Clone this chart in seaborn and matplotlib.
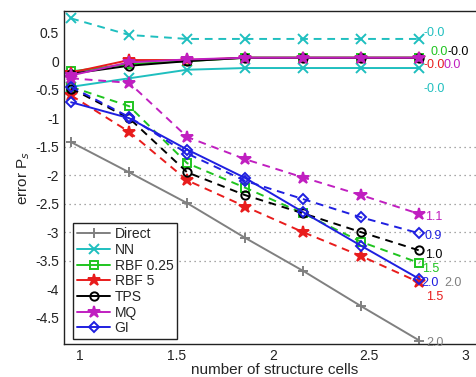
import numpy as np
import pandas as pd
import matplotlib
matplotlib.use("Agg")
import matplotlib.pyplot as plt
import seaborn as sns

sns.set_style("white")
plt.rcParams['font.family'] = ['Liberation Sans', 'DejaVu Sans']

# ---- data ----
x_cells = [0.954, 1.255, 1.556, 1.857, 2.158, 2.459, 2.760]

direct       = [-1.42, -1.95, -2.49, -3.10, -3.68, -4.30, -4.90]
nn_solid     = [-0.45, -0.30, -0.15, -0.12, -0.12, -0.12, -0.12]
nn_dash      = [0.75, 0.46, 0.39, 0.39, 0.39, 0.39, 0.39]
rbf025_solid = [-0.18, -0.05, 0.00, 0.06, 0.06, 0.06, 0.06]
rbf025_dash  = [-0.45, -0.79, -1.79, -2.22, -2.67, -3.17, -3.54]
rbf5_solid   = [-0.20, 0.02, 0.02, 0.06, 0.06, 0.06, 0.06]
rbf5_dash    = [-0.60, -1.24, -2.09, -2.55, -3.00, -3.42, -3.88]
tps_solid    = [-0.22, -0.08, 0.00, 0.06, 0.06, 0.06, 0.06]
tps_dash     = [-0.48, -1.00, -1.95, -2.35, -2.67, -3.00, -3.32]
mq_solid     = [-0.25, -0.02, 0.03, 0.06, 0.06, 0.06, 0.06]
mq_dash      = [-0.30, -0.38, -1.33, -1.72, -2.04, -2.35, -2.68]
gi_solid     = [-0.72, -1.00, -1.55, -2.05, -2.65, -3.24, -3.82]
gi_dash      = [-0.45, -0.98, -1.62, -2.10, -2.42, -2.74, -3.02]

legend_labels = ["Direct", "NN", "RBF 0.25", "RBF 5", "TPS", "MQ", "GI"]
rate_labels = {
    "nn_dash": "-0.0", "rbf025_solid": "0.0", "tps_solid": "-0.0",
    "rbf5_solid": "-0.0", "mq_solid": "0.0", "nn_solid": "-0.0",
    "mq_dash": "1.1", "gi_dash": "0.9", "tps_dash": "1.0",
    "rbf025_dash": "1.5", "gi_solid": "2.0", "gi_solid_b": "2.0",
    "rbf5_dash": "1.5", "direct": "2.0",
}

x_ticks = [1, 1.5, 2, 2.5, 3]
x_ticklabels = ["1", "1.5", "2", "2.5", "3"]
y_ticks = [0.5, 0, -0.5, -1, -1.5, -2, -2.5, -3, -3.5, -4, -4.5]
y_ticklabels = ["0.5", "0", "-0.5", "-1", "-1.5", "-2", "-2.5", "-3", "-3.5", "-4", "-4.5"]
grid_levels = [-1.5, -2, -2.5, -3, -3.5]

# ---- styles ----
C_GRAY = "#808080"
C_CYAN = "#1fbfbf"
C_GREEN = "#1fc41f"
C_RED = "#e81c1c"
C_BLACK = "#000000"
C_MAG = "#c01fc0"
C_BLUE = "#1f1fe0"

series = [
    # key, data, color, marker, dashed, legend label
    ("direct", direct, C_GRAY, "+", False, "Direct"),
    ("nn_solid", nn_solid, C_CYAN, "x", False, "NN"),
    ("nn_dash", nn_dash, C_CYAN, "x", True, None),
    ("rbf025_solid", rbf025_solid, C_GREEN, "s", False, "RBF 0.25"),
    ("rbf025_dash", rbf025_dash, C_GREEN, "s", True, None),
    ("rbf5_solid", rbf5_solid, C_RED, "*", False, "RBF 5"),
    ("rbf5_dash", rbf5_dash, C_RED, "*", True, None),
    ("tps_solid", tps_solid, C_BLACK, "o", False, "TPS"),
    ("tps_dash", tps_dash, C_BLACK, "o", True, None),
    ("mq_solid", mq_solid, C_MAG, "*", False, "MQ"),
    ("mq_dash", mq_dash, C_MAG, "*", True, None),
    ("gi_solid", gi_solid, C_BLUE, "D", False, "GI"),
    ("gi_dash", gi_dash, C_BLUE, "D", True, None),
]

fig = plt.figure(figsize=(4.77, 3.77), dpi=100)
ax = fig.add_axes([64 / 477, 33 / 377, 421 / 477, 333 / 377])

for lvl in grid_levels:
    ax.axhline(lvl, color="#8a8a8a", lw=0.9, ls=(0, (1, 3)), zorder=0)

handles = {}
for key, vals, col, mk, dashed, lab in series:
    df = pd.DataFrame({"x": x_cells, "y": vals})
    ms = 9 if mk == "*" else (7 if mk in ("+", "x") else 6)
    if mk == "D":
        ms = 5.5
    filled = mk in ("*",)
    sns.lineplot(data=df, x="x", y="y", ax=ax, color=col, marker=mk,
                 linestyle=(0, (4, 3)) if dashed else "-", lw=1.4,
                 markersize=ms, markeredgecolor=col,
                 markerfacecolor=col if filled else "none",
                 markeredgewidth=1.4, sort=False, errorbar=None,
                 label=lab if lab else "_nolegend_", legend=False)
    if lab:
        handles[lab] = ax.lines[-1]

# rate annotations near line ends (offsets in pixels)
offsets = {
    "nn_dash": (4, 6, C_CYAN), "rbf025_solid": (11, 6, C_GREEN),
    "tps_solid": (28, 6, C_BLACK), "rbf5_solid": (4, -7, C_RED),
    "mq_solid": (24, -7, C_MAG), "nn_solid": (4, -21, C_CYAN),
    "mq_dash": (6, -3, C_MAG), "gi_dash": (5, -3, C_BLUE),
    "tps_dash": (6, -5, C_BLACK), "rbf025_dash": (3, -6, C_GREEN),
    "gi_solid": (2, -4, C_BLUE), "gi_solid_b": (25, -4, C_GRAY),
    "rbf5_dash": (7, -15, C_RED), "direct": (7, -2, C_GRAY),
}
data_map = {k: v for k, v, *_ in series}
for key, txt in rate_labels.items():
    src = key.replace("_b", "")
    dx, dy, col = offsets[key]
    ax.annotate(txt, xy=(x_cells[-1], data_map[src][-1]), xytext=(dx, dy),
                textcoords="offset pixels", ha="left", va="center",
                color=col, fontsize=9, annotation_clip=False)

ax.set_xlim(0.917, 3.1)
ax.set_ylim(-4.96, 0.88)
ax.set_xticks(x_ticks)
ax.set_xticklabels(x_ticklabels)
ax.set_yticks(y_ticks)
ax.set_yticklabels(y_ticklabels)
ax.tick_params(direction="in", length=4, labelsize=10, colors="#222222")
ax.set_xlabel("number of structure cells", fontsize=11, labelpad=0)
ax.set_ylabel("error P$_s$", fontsize=11, labelpad=2)
for s in ax.spines.values():
    s.set_color("#222222")
    s.set_linewidth(1.0)
ax.spines["right"].set_visible(False)

leg = ax.legend([handles[l] for l in legend_labels], legend_labels,
                loc="upper left", bbox_to_anchor=(0.021, 0.363),
                borderaxespad=0, fontsize=10, handlelength=2.4,
                labelspacing=0.12, handletextpad=0.3, borderpad=0.3,
                frameon=True, fancybox=False, framealpha=1.0)
leg.get_frame().set_edgecolor("#222222")
leg.get_frame().set_linewidth(1.0)
for h in leg.legend_handles:
    h.set_linestyle("-")

fig.savefig("out.png", dpi=100)
